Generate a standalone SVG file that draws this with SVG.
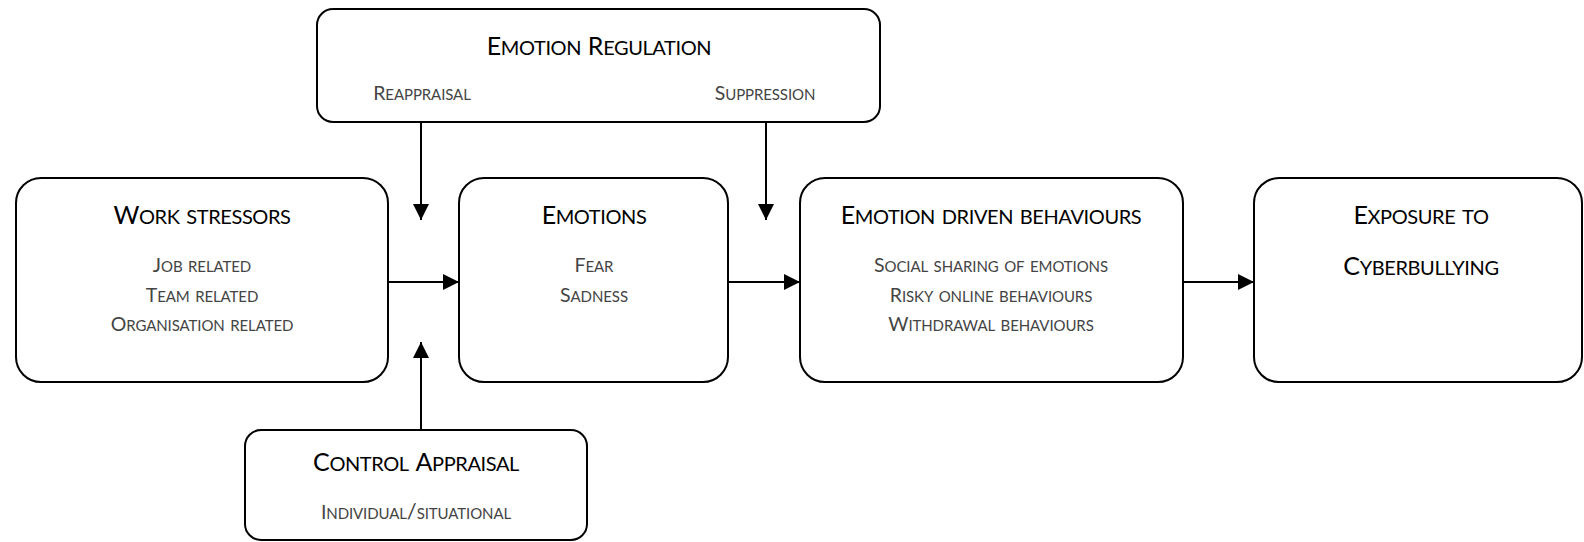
<svg xmlns="http://www.w3.org/2000/svg" width="1584" height="542" viewBox="0 0 1584 542">
<defs>
<marker id="ah" markerUnits="userSpaceOnUse" markerWidth="16" markerHeight="16" viewBox="0 0 16 16" refX="16" refY="8" orient="auto">
<path d="M0,0 L16,8 L0,16 Z" fill="#000"/>
</marker>
<style>
.box{fill:#fff;stroke:#000;stroke-width:2}
.t{font-family:Lato,"Open Sans","Liberation Sans",sans-serif;font-variant:small-caps;font-size:28px;fill:#000;text-anchor:middle;letter-spacing:-0.4px}
.s{font-family:Lato,"Open Sans","Liberation Sans",sans-serif;font-variant:small-caps;font-size:22px;fill:#444;text-anchor:middle;letter-spacing:-0.1px}
.t .k{font-size:25px}
.s .k{font-size:19.5px}
.c{stroke:#000;stroke-width:2;fill:none;marker-end:url(#ah)}
</style>
</defs>
<rect width="1584" height="542" fill="#fff"/>
<g id="emotion-regulation">
<rect class="box" x="317" y="9" width="563" height="113" rx="16"/>
<text class="t" x="599" y="55"><tspan class="k">E</tspan>motion <tspan class="k">R</tspan>egulation</text>
<text class="s" x="422" y="100"><tspan class="k">R</tspan>eappraisal</text>
<text class="s" x="765" y="100"><tspan class="k">S</tspan>uppression</text>
</g>
<g id="work-stressors">
<rect class="box" x="16" y="178" width="372" height="204" rx="25"/>
<text class="t" x="202" y="224"><tspan class="k">W</tspan>ork stressors</text>
<text class="s" x="202" y="272"><tspan class="k">J</tspan>ob related</text>
<text class="s" x="202" y="302"><tspan class="k">T</tspan>eam related</text>
<text class="s" x="202" y="331"><tspan class="k">O</tspan>rganisation related</text>
</g>
<g id="emotions">
<rect class="box" x="459" y="178" width="269" height="204" rx="25"/>
<text class="t" x="594" y="224"><tspan class="k">E</tspan>motions</text>
<text class="s" x="594" y="272"><tspan class="k">F</tspan>ear</text>
<text class="s" x="594" y="302"><tspan class="k">S</tspan>adness</text>
</g>
<g id="emotion-driven-behaviours">
<rect class="box" x="800" y="178" width="383" height="204" rx="25"/>
<text class="t" x="991" y="224"><tspan class="k">E</tspan>motion driven behaviours</text>
<text class="s" x="991" y="272"><tspan class="k">S</tspan>ocial sharing of emotions</text>
<text class="s" x="991" y="302"><tspan class="k">R</tspan>isky online behaviours</text>
<text class="s" x="991" y="331"><tspan class="k">W</tspan>ithdrawal behaviours</text>
</g>
<g id="exposure">
<rect class="box" x="1254" y="178" width="328" height="204" rx="25"/>
<text class="t" x="1421" y="224"><tspan class="k">E</tspan>xposure to</text>
<text class="t" x="1421" y="275"><tspan class="k">C</tspan>yberbullying</text>
</g>
<g id="control-appraisal">
<rect class="box" x="245" y="430" width="342" height="110" rx="16"/>
<text class="t" x="416" y="471"><tspan class="k">C</tspan>ontrol <tspan class="k">A</tspan>ppraisal</text>
<text class="s" x="416" y="519"><tspan class="k">I</tspan>ndividual/situational</text>
</g>
<g id="connectors">
<line class="c" x1="421" y1="122" x2="421" y2="220"/>
<line class="c" x1="766" y1="122" x2="766" y2="220"/>
<line class="c" x1="421" y1="430" x2="421" y2="342"/>
<line class="c" x1="388" y1="282" x2="459" y2="282"/>
<line class="c" x1="728" y1="282" x2="800" y2="282"/>
<line class="c" x1="1183" y1="282" x2="1254" y2="282"/>
</g>
</svg>
